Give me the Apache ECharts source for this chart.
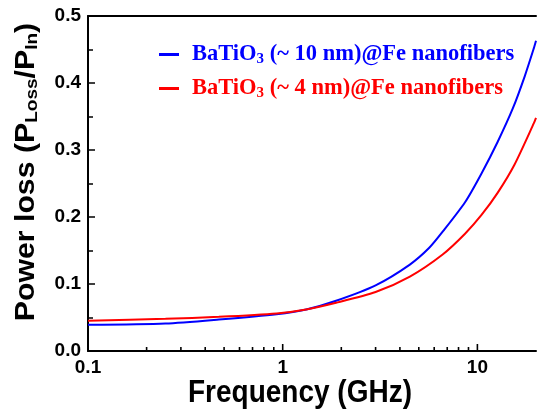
<!DOCTYPE html>
<html><head><meta charset="utf-8">
<script src="https://cdn.jsdelivr.net/npm/echarts@6/dist/echarts.min.js"></script>
<style>html,body{margin:0;padding:0;background:#fff}#c{width:539px;height:412px}</style>
</head><body><div id="c"></div>
<script>
var seriesNames = ['BaTiO3 (~ 10 nm)@Fe nanofibers', 'BaTiO3 (~ 4 nm)@Fe nanofibers'];
var blueFreq = [0.1, 0.25, 0.47, 0.93, 1.32, 1.88, 3.0, 4.5, 5.66, 6.63, 8.64, 10.5, 12.7, 15.2, 17.5, 19.5, 20];
var blueLoss = [0.039, 0.041, 0.047, 0.055, 0.062, 0.075, 0.098, 0.129, 0.154, 0.178, 0.222, 0.265, 0.312, 0.362, 0.410, 0.452, 0.463];
var redFreq = [0.1, 0.25, 0.47, 0.93, 1.32, 1.88, 3.0, 4.5, 6.63, 8.64, 10.5, 12.7, 15.5, 19.5, 20];
var redLoss = [0.045, 0.048, 0.051, 0.056, 0.062, 0.072, 0.088, 0.111, 0.144, 0.175, 0.203, 0.236, 0.278, 0.340, 0.348];
var xMajorTicks = [0.1, 1, 10];
var xMinorTicks = [0.2,0.3,0.4,0.5,0.6,0.7,0.8,0.9,2,3,4,5,6,7,8,9];
var xTickLabels = {0.1:'0.1', 1:'1', 10:'10'};

function pairs(xs, ys){ return xs.map(function(x,i){return [x, ys[i]];}); }
var chart = echarts.init(document.getElementById('c'));
var lab = {fontFamily:'Liberation Sans, Arial, sans-serif', fontWeight:'bold', fontSize:19, color:'#000'};
function tickSeries(vals, len){
  return {type:'scatter', silent:true, clip:false, z:10, xAxisIndex:0, yAxisIndex:0,
    data:vals.map(function(v){return [v,0.0];}),
    symbol:'rect', symbolSize:[1.6, len], symbolOffset:[0, -len/2],
    itemStyle:{color:'#000', opacity:1}};
}
chart.setOption({
  animation:false,
  backgroundColor:'#fff',
  grid:{left:88, top:16, width:453, height:335},
  legend:{
    orient:'vertical', left:154, top:38, itemGap:10, itemWidth:20, itemHeight:3, icon:'rect',
    data:[{name:seriesNames[0], textStyle:{color:'#0000ff'}},{name:seriesNames[1], textStyle:{color:'#ff0000'}}],
    formatter:function(n){ return n.replace('O3','O{s|3}'); },
    textStyle:{fontFamily:'Liberation Serif, Times New Roman, serif', fontWeight:'bold', fontSize:22.5, padding:[0,0,0,8],
      rich:{s:{fontFamily:'Liberation Serif, serif', fontWeight:'bold', fontSize:15, padding:[10,0,0,0]}}}
  },
  xAxis:[{
    type:'log', logBase:10, min:0.1, max:20,
    axisLine:{lineStyle:{color:'#000', width:2}},
    axisTick:{show:false},
    axisLabel:Object.assign({margin:7, formatter:function(v){return xTickLabels[v] !== undefined ? xTickLabels[v] : '';}}, lab),
    splitLine:{show:false}
  },{
    type:'log', logBase:10, min:0.1, max:20, position:'top',
    axisLine:{show:true, lineStyle:{color:'#000', width:2}},
    axisTick:{show:false}, axisLabel:{show:false}, splitLine:{show:false}
  }],
  yAxis:{
    type:'value', min:0, max:0.5, interval:0.1,
    axisLine:{show:true, lineStyle:{color:'#000', width:2}},
    axisTick:{inside:true, length:7, lineStyle:{color:'#000', width:1.5}},
    minorTick:{show:true, splitNumber:2, length:5, lineStyle:{color:'#000', width:1.5}},
    axisLabel:Object.assign({margin:7, formatter:function(v){return v.toFixed(1);}}, lab),
    splitLine:{show:false}
  },
  graphic:[
    {type:'text', x:300, y:393, scaleY:1.15,
      style:{text:'Frequency (GHz)', align:'center', verticalAlign:'middle', fontFamily:'Liberation Sans, Arial, sans-serif', fontWeight:'bold', fontSize:28, fill:'#000'}},
    {type:'text', x:27, y:172, rotation:Math.PI/2, scaleX:1.12,
      style:{text:'Power loss (P{s|Loss}/P{s|In})', align:'center', verticalAlign:'middle',
        fontFamily:'Liberation Sans, Arial, sans-serif', fontWeight:'bold', fontSize:27, fill:'#000',
        rich:{s:{fontFamily:'Liberation Sans, Arial, sans-serif', fontWeight:'bold', fontSize:17, padding:[10,0,0,0]}}}}
  ],
  series:[
    {name:seriesNames[0], type:'line', data:pairs(blueFreq, blueLoss), smooth:0.25, showSymbol:false, lineStyle:{color:'#0000ff', width:2}, itemStyle:{color:'#0000ff'}},
    {name:seriesNames[1], type:'line', data:pairs(redFreq, redLoss), smooth:0.25, showSymbol:false, lineStyle:{color:'#ff0000', width:2}, itemStyle:{color:'#ff0000'}},
    tickSeries(xMajorTicks, 7),
    tickSeries(xMinorTicks, 4)
  ]
});
</script></body></html>
